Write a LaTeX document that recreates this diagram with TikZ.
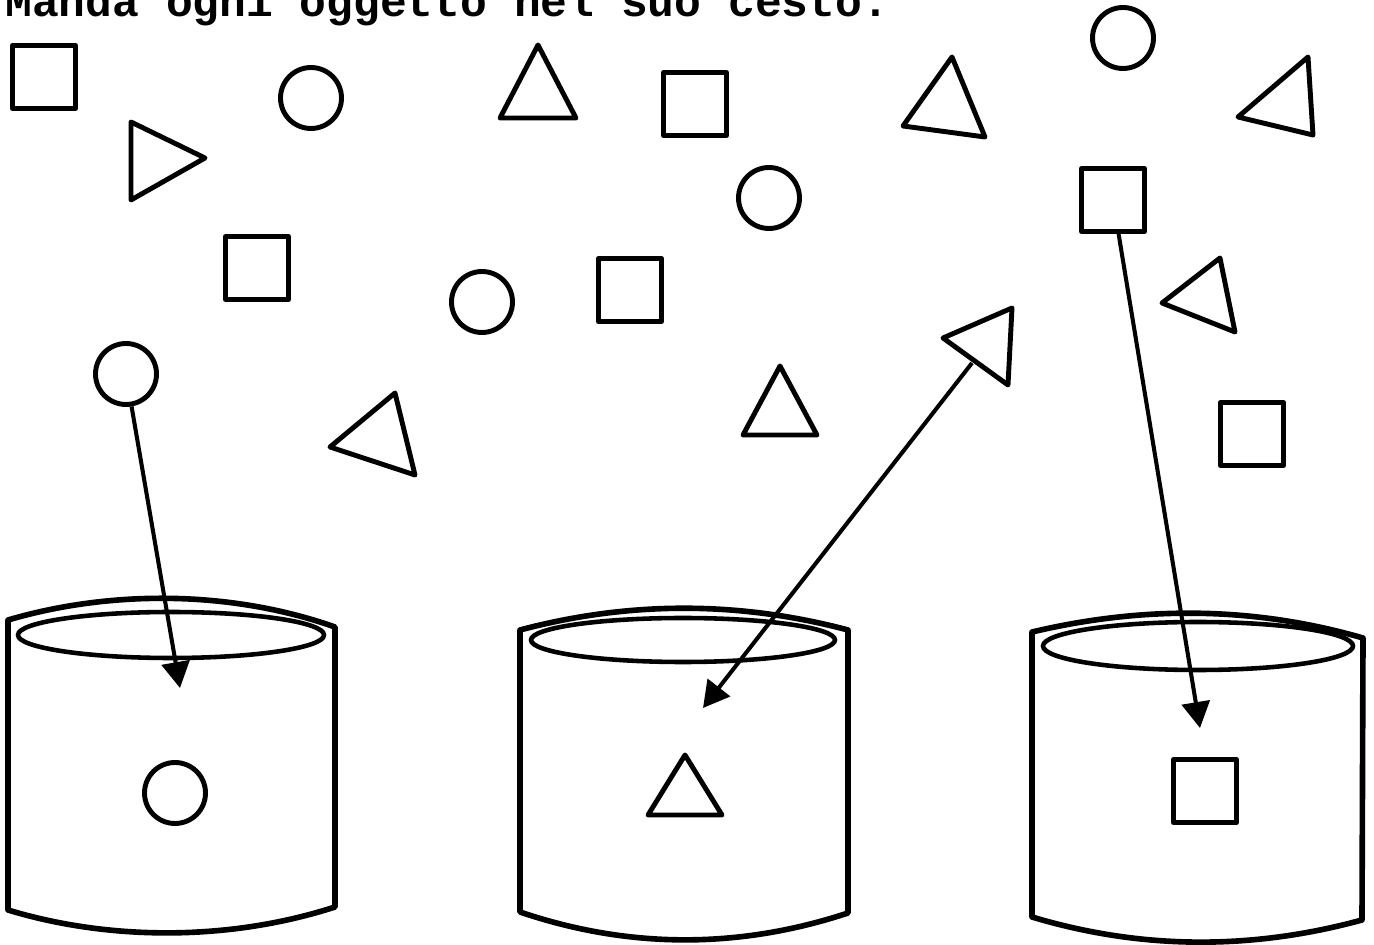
\documentclass[tikz,border=0pt]{standalone}
\usepackage{fontspec}
\newfontfamily\scritta{Liberation Mono}
\usetikzlibrary{arrows.meta}

\begin{document}
\begin{tikzpicture}[x=0.02cm,y=-0.02cm,
	forma/.style={draw,line width=2.8pt,line join=round},
	cerchio/.style={forma,circle,minimum size=1.22cm,inner sep=0pt},
	quadro/.style={forma,rectangle,minimum size=1.26cm,inner sep=0pt},
	bordo/.style={line width=3.2pt,line join=round},
	bocca/.style={line width=2.6pt},
	freccia/.style={line width=2.3pt,-{Triangle[length=0.52cm,width=0.56cm]}}]
	\clip (0,0) rectangle (1374,945);
	\node[anchor=base west,inner sep=0pt,font=\scritta\bfseries\fontsize{25.4pt}{30pt}\selectfont] (titolo) at (5,17) {Manda ogni oggetto nel suo cesto.};
	% quadrati
	\node[quadro] (q1) at (44,77) {};
	\node[quadro] (q2) at (695,104) {};
	\node[quadro] (q3) at (257,268) {};
	\node[quadro] (q4) at (630,290) {};
	\node[quadro] (q5) at (1113,200) {};
	\node[quadro] (q6) at (1252,434) {};
	\node[quadro] (q7) at (1205,791) {};
	% cerchi
	\node[cerchio] (c1) at (311,98) {};
	\node[cerchio] (c2) at (1123,38) {};
	\node[cerchio] (c3) at (769,198) {};
	\node[cerchio] (c4) at (482,302) {};
	\node[cerchio] (c5) at (126,374) {};
	\node[cerchio] (c6) at (175,793) {};
	% triangoli
	\draw[forma] (538,45) -- (576,118) -- (500,118) -- cycle;
	\draw[forma] (131,122) -- (205,158) -- (131,200) -- cycle;
	\draw[forma] (952,57) -- (985,137) -- (903,126) -- cycle;
	\draw[forma] (1238,117) -- (1308,57) -- (1313,135) -- cycle;
	\draw[forma] (1162,303) -- (1220,258) -- (1235,332) -- cycle;
	\draw[forma] (943,338) -- (1012,308) -- (1008,385) -- cycle;
	\draw[forma] (780,366) -- (817,435) -- (743,435) -- cycle;
	\draw[forma] (330,447) -- (395,393) -- (415,475) -- cycle;
	\draw[forma] (685,755) -- (722,815) -- (648,815) -- cycle;
	\coordinate (t6) at (972,363);
	% cesti
	\draw[bordo] (8,620) .. controls (110,590) and (230,590) .. (335,627) -- (335,907)
		.. controls (230,941) and (110,941) .. (8,910) -- cycle;
	\draw[bocca] (171,635) ellipse [x radius=153, y radius=23];
	\draw[bordo] (520,630) .. controls (629,601) and (739,601) .. (848,630) -- (848,913)
		.. controls (739,949) and (629,949) .. (520,912) -- cycle;
	\draw[bocca] (683,640) ellipse [x radius=152, y radius=22];
	\draw[bordo] (1032,632) .. controls (1142,606) and (1252,606) .. (1363,638) -- (1362,920)
		.. controls (1252,950) and (1142,950) .. (1032,917) -- cycle;
	\draw[bocca] (1198,646) ellipse [x radius=155, y radius=24];
	% frecce
	\coordinate (p1) at (180,688);
	\coordinate (p2) at (703,708);
	\coordinate (p3) at (1200,728);
	\draw[freccia] (c5) -- (p1);
	\draw[freccia] (t6) -- (p2);
	\draw[freccia] (q5) -- (p3);
\end{tikzpicture}
\end{document}
